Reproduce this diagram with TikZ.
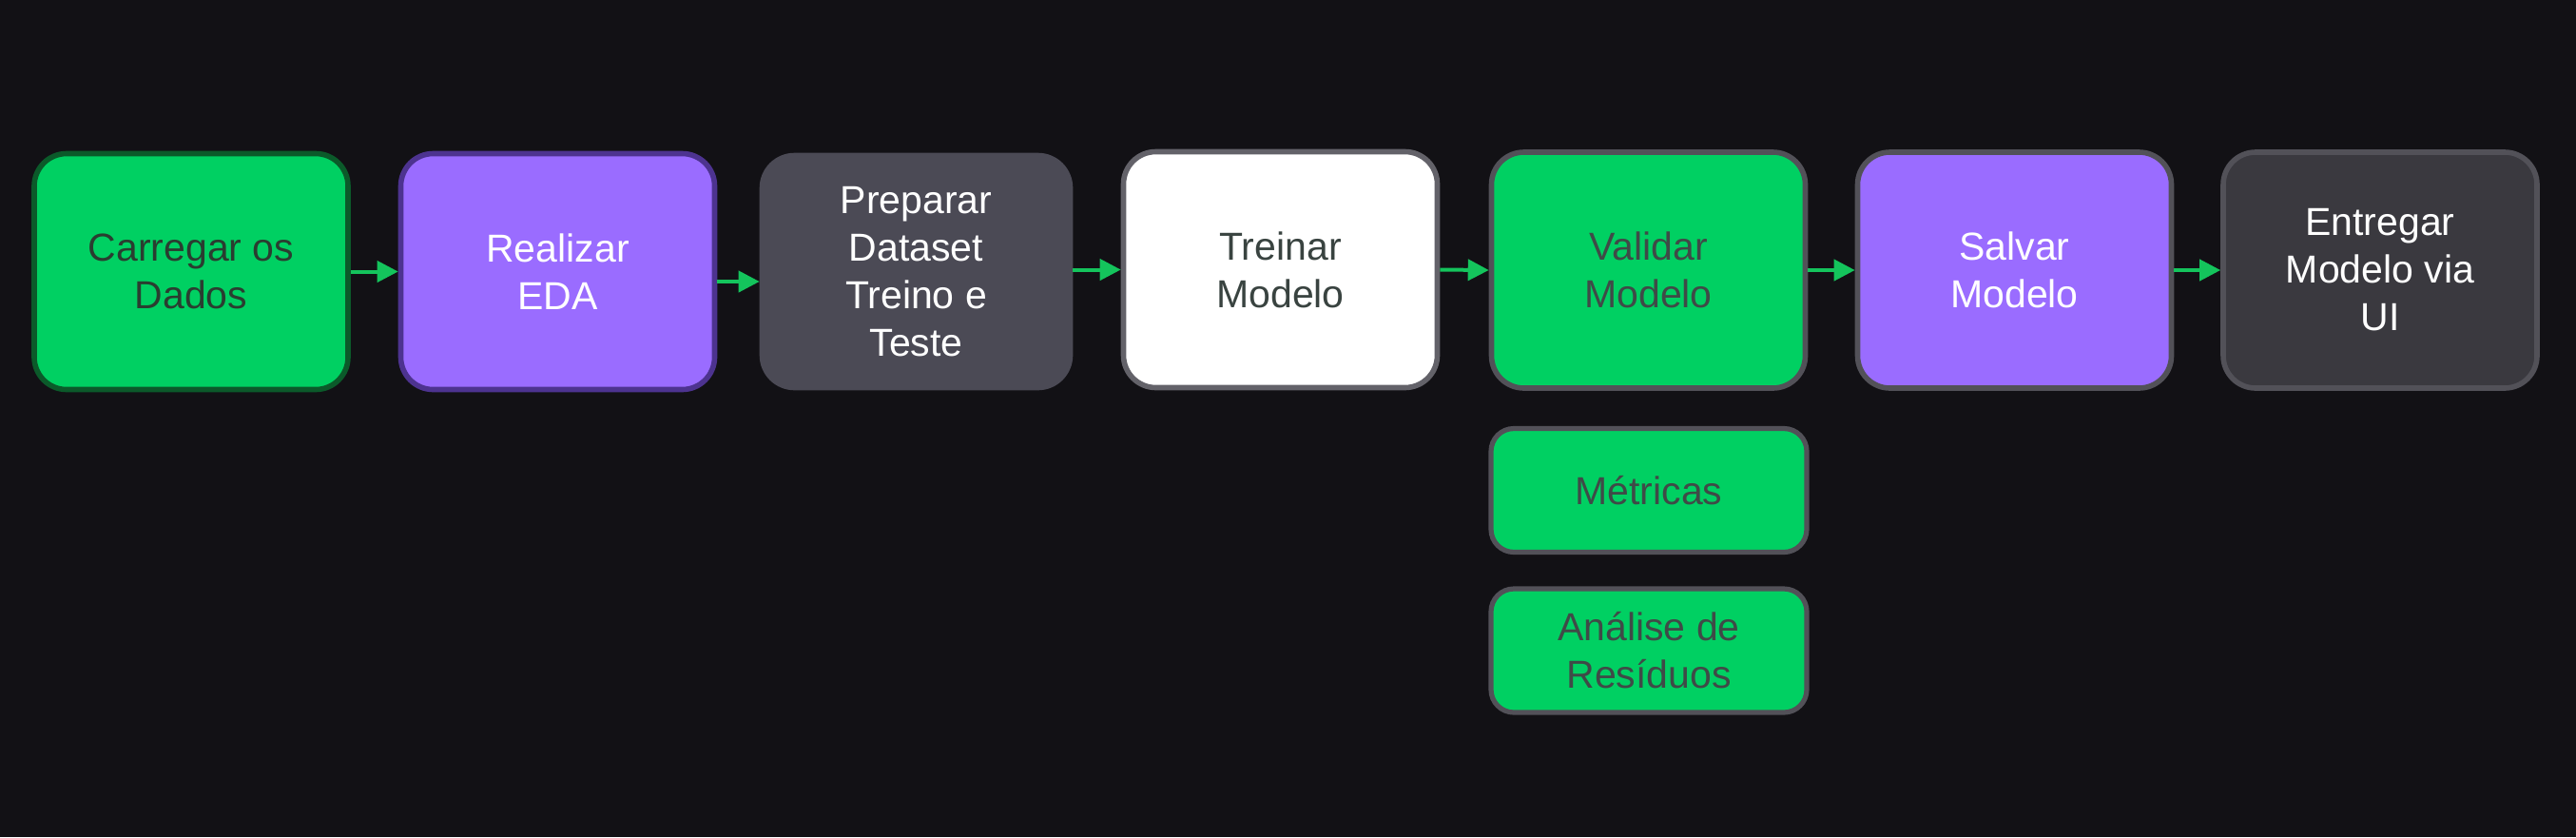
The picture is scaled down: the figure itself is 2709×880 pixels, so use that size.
\documentclass[tikz,border=0pt]{standalone}
\usepackage{fontspec}
\setmainfont{Liberation Sans}
\usetikzlibrary{arrows.meta}
\definecolor{bgc}{HTML}{121115}
\definecolor{gfill}{HTML}{00D062}
\definecolor{gborder}{HTML}{0B5A2A}
\definecolor{pfill}{HTML}{9A6CFF}
\definecolor{pborder}{HTML}{4D3390}
\definecolor{grayfill}{HTML}{4B4A55}
\definecolor{darkfill}{HTML}{3A393F}
\definecolor{grayborder}{HTML}{525158}
\definecolor{darktext}{HTML}{2A3D30}
\definecolor{graytext}{HTML}{3F4A47}
\definecolor{arrowc}{HTML}{14C45C}
\begin{document}
\begin{tikzpicture}[x=0.5pt,y=-0.5pt,
  box/.style={rounded corners=17pt, line width=2.8pt, minimum width=165pt, minimum height=124pt,
    align=center, inner sep=0pt, font=\fontsize{20.5}{25}\selectfont},
  smallbox/.style={rounded corners=12pt, line width=2.6pt, minimum width=166pt, minimum height=65pt,
    align=center, inner sep=0pt, font=\fontsize{20.5}{25}\selectfont},
  arr/.style={draw=arrowc, line width=2pt, -{Triangle[length=11pt,width=11pt]}}]
\fill[bgc] (0,0) rectangle (2709,880);
\useasboundingbox (0,0) rectangle (2709,880);

\node[box, fill=gfill, draw=gborder, text=darktext] (b1) at (201,285.5) {Carregar os\\Dados};
\node[box, fill=pfill, draw=pborder, text=white] (b2) at (586.5,285.5) {Realizar\\EDA};
\node[box, fill=grayfill, draw=grayfill, text=white, minimum width=162pt, minimum height=122pt] (b3) at (963.5,285.5) {Preparar\\Dataset\\Treino e\\Teste};
\node[box, fill=white, draw=grayborder!90!white, text=graytext!90!black] (b4) at (1346.5,283.5) {Treinar\\Modelo};
\node[box, fill=gfill, draw=grayborder, text=graytext] (b5) at (1733.5,284) {Validar\\Modelo};
\node[box, fill=pfill, draw=grayborder, text=white] (b6) at (2118.5,284) {Salvar\\Modelo};
\node[box, fill=darkfill, draw=grayborder, text=white] (b7) at (2503,284) {Entregar\\Modelo via\\UI};

\node[smallbox, fill=gfill, draw=grayborder, text=graytext] (m1) at (1734,515.5) {Métricas};
\node[smallbox, fill=gfill, draw=grayborder, text=graytext] (m2) at (1734,684) {Análise de\\Resíduos};

\draw[arr] (b1.east) -- (b2.west);
\draw[arr] ([yshift=-5.25pt]b2.east) -- ([yshift=-5.25pt]b3.west);
\draw[arr] (b3.east |- b4.west) -- (b4.west);
\draw[arr] (b4.east) -- (b5.west);
\draw[arr] (b5.east) -- (b6.west);
\draw[arr] (b6.east) -- (b7.west);
\end{tikzpicture}
\end{document}
